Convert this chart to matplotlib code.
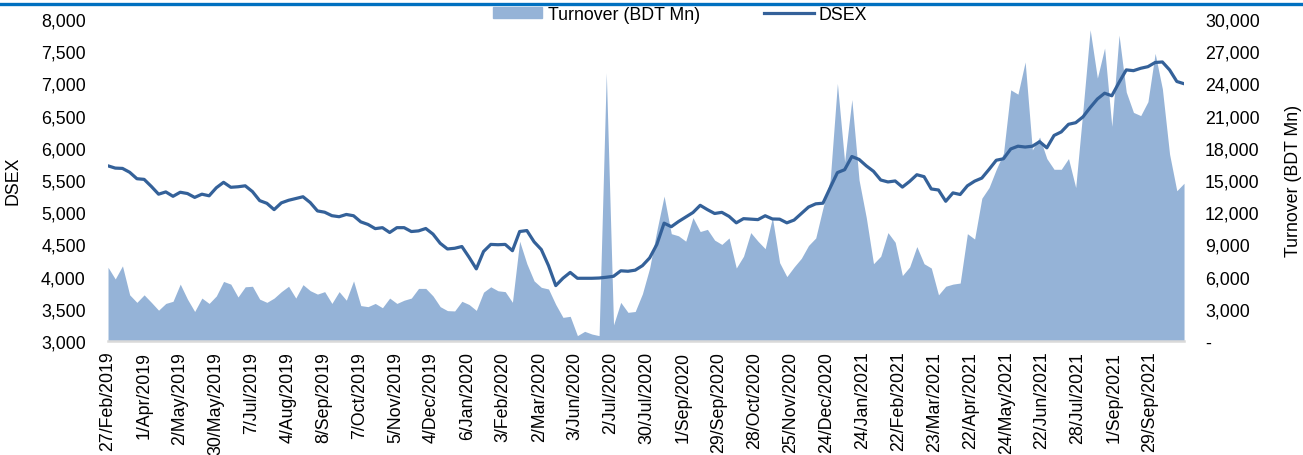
import numpy as np
import matplotlib.pyplot as plt
from matplotlib.lines import Line2D
from matplotlib.ticker import FuncFormatter

plt.rcParams['font.family'] = ['Liberation Sans', 'DejaVu Sans']

# Trading days covered, one tick label every 20 trading days
n_days = 600
tick_step = 20
tick_labels = ['27/Feb/2019', '1/Apr/2019', '2/May/2019', '30/May/2019', '7/Jul/2019',
               '4/Aug/2019', '8/Sep/2019', '7/Oct/2019', '5/Nov/2019', '4/Dec/2019',
               '6/Jan/2020', '3/Feb/2020', '2/Mar/2020', '3/Jun/2020', '2/Jul/2020',
               '30/Jul/2020', '1/Sep/2020', '29/Sep/2020', '28/Oct/2020', '25/Nov/2020',
               '24/Dec/2020', '24/Jan/2021', '22/Feb/2021', '23/Mar/2021', '22/Apr/2021',
               '24/May/2021', '22/Jun/2021', '28/Jul/2021', '1/Sep/2021', '29/Sep/2021']

# DSEX index (sampled roughly every 4 trading days)
dsex = [5720, 5685, 5680, 5620, 5520, 5510, 5400, 5280, 5315, 5247,
        5310, 5290, 5230, 5280, 5255, 5380, 5464, 5387, 5395, 5410,
        5320, 5180, 5138, 5040, 5145, 5185, 5212, 5240, 5150, 5020,
        5000, 4946, 4930, 4965, 4945, 4850, 4810, 4745, 4760, 4685,
        4760, 4760, 4700, 4710, 4747, 4660, 4517, 4429, 4440, 4467,
        4300, 4120, 4390, 4500, 4495, 4500, 4402, 4700, 4715, 4540,
        4420, 4170, 3860, 3975, 4065, 3974, 3974, 3974, 3978, 3990,
        4005, 4090, 4083, 4100, 4170, 4290, 4500, 4830, 4775, 4855,
        4925, 4995, 5107, 5040, 4980, 4998, 4935, 4835, 4900, 4893,
        4885, 4945, 4895, 4892, 4835, 4878, 4980, 5080, 5130, 5140,
        5380, 5615, 5660, 5865, 5820, 5720, 5635, 5500, 5470, 5485,
        5390, 5478, 5582, 5552, 5361, 5345, 5170, 5300, 5275, 5410,
        5482, 5530, 5665, 5807, 5830, 5982, 6025, 6012, 6025, 6095,
        6000, 6192, 6247, 6365, 6390, 6480, 6625, 6758, 6848, 6808,
        7015, 7210, 7198, 7235, 7260, 7325, 7333, 7210, 7030, 6995]

# Turnover in BDT Mn, same sampling
turnover = [6870, 5780, 7000, 4300, 3600, 4300, 3600, 2870, 3500, 3700,
            5300, 3900, 2750, 4000, 3500, 4200, 5550, 5300, 4100, 5050,
            5100, 3900, 3600, 4000, 4600, 5100, 4000, 5250, 4690, 4370,
            4600, 3500, 4600, 3800, 5600, 3300, 3200, 3500, 3100, 4000,
            3500, 3800, 4000, 4900, 4900, 4200, 3200, 2830, 2800, 3700,
            3400, 2850, 4550, 5050, 4680, 4600, 3606, 9300, 7200, 5600,
            5000, 4845, 3400, 2200, 2300, 500, 900, 650, 500, 25000,
            1500, 3600, 2670, 2750, 4400, 6800, 10300, 13500, 10000, 9800,
            9300, 11500, 10200, 10400, 9400, 9000, 9600, 6800, 7900, 10100,
            9300, 8600, 11500, 7300, 6000, 6900, 7700, 8900, 9600, 12400,
            15000, 24000, 16700, 22500, 15000, 11500, 7200, 7900, 10100, 9200,
            6100, 6900, 8800, 7200, 6800, 4300, 5100, 5300, 5400, 10000,
            9500, 13300, 14300, 16000, 17500, 23400, 23000, 26000, 17800, 19000,
            17000, 16000, 16000, 17000, 14300, 21500, 29000, 24500, 27300, 20000,
            28500, 23200, 21300, 21000, 22300, 26800, 23500, 17400, 14000, 14700]

days = np.linspace(0, n_days - 1, len(dsex))

fig = plt.figure(figsize=(13.03, 4.56), dpi=100)
ax = fig.add_axes([0.0829, 0.25, 0.8258, 0.7061])
ax2 = ax.twinx()

# area on the right axis, line on top of it
ax2.fill_between(days, 0, turnover, color='#95B3D7', lw=0)
ax.plot(days, dsex, color='#346199', lw=2.3, solid_capstyle='round')
ax.set_zorder(ax2.get_zorder() + 1)
ax.patch.set_visible(False)

ax.set_xlim(0, n_days - 1)
ax.set_ylim(3000, 8000)
ax2.set_ylim(0, 30000)
ax.set_yticks(np.arange(3000, 8001, 500))
ax2.set_yticks(np.arange(0, 30001, 3000))
ax.yaxis.set_major_formatter(FuncFormatter(lambda v, p: f'{v:,.0f}'))
ax2.yaxis.set_major_formatter(FuncFormatter(lambda v, p: '-' if v == 0 else f'{v:,.0f}'))

ax.set_xticks(np.arange(len(tick_labels)) * tick_step)
ax.set_xticklabels(tick_labels, rotation=90)

for a in (ax, ax2):
    for s in ['left', 'right', 'top']:
        a.spines[s].set_visible(False)
    a.spines['bottom'].set_visible(False)
ax.spines['bottom'].set_visible(True)
ax.spines['bottom'].set_color('#D9D9D9')
ax.spines['bottom'].set_linewidth(1.8)

ax.tick_params(axis='y', length=0, pad=16, labelsize=12.8)
ax2.tick_params(axis='y', length=0, pad=15, labelsize=12.8)
ax.tick_params(axis='x', length=0, pad=7, labelsize=12.8)

ax.set_ylabel('DSEX', fontsize=12.8)
ax.yaxis.set_label_coords(-0.080, 0.5)
ax2.set_ylabel('Turnover (BDT Mn)', fontsize=12.8, rotation=90)
ax2.yaxis.set_label_coords(1.094, 0.5)

handles = [plt.Rectangle((0, 0), 1, 1, color='#95B3D7'),
           Line2D([0], [0], color='#346199', lw=2.3)]
fig.legend(handles, ['Turnover (BDT Mn)', 'DSEX'], loc='center',
           bbox_to_anchor=(680 / 1303, 1 - 15 / 456), ncol=2, frameon=False,
           fontsize=12.8, handlelength=2.8, handletextpad=0.3, columnspacing=3.6,
           handleheight=0.55)

# blue rule across the top
fig.add_artist(Line2D([0, 1], [1 - 4.5 / 456, 1 - 4.5 / 456], transform=fig.transFigure,
                      color='#0070C0', lw=2.4))

fig.savefig('out.png', dpi=100)
